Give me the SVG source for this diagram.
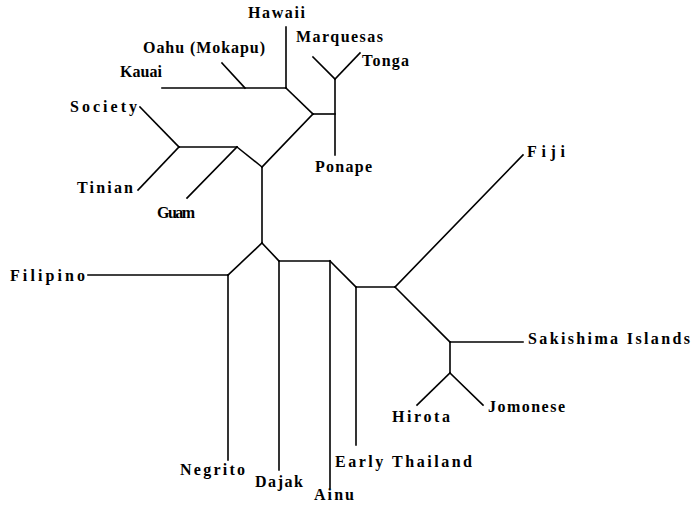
<svg xmlns="http://www.w3.org/2000/svg" width="693" height="506" viewBox="0 0 693 506">
  <style>
    .edge { stroke: #000; stroke-width: 1.6; fill: none; stroke-linecap: square; }
    .lbl { font-family: "Liberation Serif", "Times New Roman", serif; font-weight: bold; font-size: 16px; fill: #000; }
  </style>
  <rect x="0" y="0" width="693" height="506" fill="#fff"/>

  <!-- tree branches -->
  <g id="connectors" class="edge">
    <!-- Pacific / Micronesian cluster -->
    <line x1="286" y1="27" x2="286" y2="88"/>
    <line x1="162" y1="88" x2="286" y2="88"/>
    <line x1="222" y1="63" x2="245" y2="88"/>
    <line x1="286" y1="88" x2="313" y2="114"/>
    <line x1="313" y1="114" x2="335" y2="114"/>
    <line x1="335" y1="79" x2="335" y2="155"/>
    <line x1="313" y1="57" x2="335" y2="79"/>
    <line x1="335" y1="79" x2="360" y2="53"/>
    <line x1="313" y1="114" x2="262" y2="167"/>
    <line x1="262" y1="167" x2="237" y2="147"/>
    <line x1="179" y1="147" x2="237" y2="147"/>
    <line x1="237" y1="147" x2="187" y2="198"/>
    <line x1="140" y1="107" x2="179" y2="147"/>
    <line x1="179" y1="147" x2="138" y2="190"/>
    <line x1="262" y1="167" x2="262" y2="243"/>
    <!-- Southeast Asian / Japanese cluster -->
    <line x1="262" y1="243" x2="228" y2="275"/>
    <line x1="88" y1="275" x2="228" y2="275"/>
    <line x1="228" y1="275" x2="228" y2="460"/>
    <line x1="262" y1="243" x2="279" y2="261"/>
    <line x1="279" y1="261" x2="330" y2="261"/>
    <line x1="279" y1="261" x2="279" y2="470"/>
    <line x1="330" y1="261" x2="330" y2="488"/>
    <line x1="330" y1="261" x2="356" y2="287"/>
    <line x1="356" y1="287" x2="395" y2="287"/>
    <line x1="356" y1="287" x2="356" y2="445"/>
    <line x1="395" y1="287" x2="523" y2="155"/>
    <line x1="395" y1="287" x2="450" y2="342"/>
    <line x1="450" y1="342" x2="523" y2="342"/>
    <line x1="450" y1="342" x2="450" y2="373"/>
    <line x1="450" y1="373" x2="417" y2="405"/>
    <line x1="450" y1="373" x2="483" y2="405"/>
  </g>

  <!-- taxa -->
  <g id="hawaii"><text class="lbl" x="248" y="18" textLength="57" lengthAdjust="spacing">Hawaii</text></g>
  <g id="oahu"><text class="lbl" x="143" y="53" textLength="122" lengthAdjust="spacing">Oahu (Mokapu)</text></g>
  <g id="marquesas"><text class="lbl" x="296" y="42" textLength="87" lengthAdjust="spacing">Marquesas</text></g>
  <g id="tonga"><text class="lbl" x="362" y="66" textLength="47" lengthAdjust="spacing">Tonga</text></g>
  <g id="kauai"><text class="lbl" x="120" y="77" textLength="42" lengthAdjust="spacing">Kauai</text></g>
  <g id="society"><text class="lbl" x="70" y="112" textLength="67" lengthAdjust="spacing">Society</text></g>
  <g id="tinian"><text class="lbl" x="77" y="193" textLength="56" lengthAdjust="spacing">Tinian</text></g>
  <g id="guam"><text class="lbl" x="157" y="218" textLength="38" lengthAdjust="spacing">Guam</text></g>
  <g id="ponape"><text class="lbl" x="315" y="172" textLength="57" lengthAdjust="spacing">Ponape</text></g>
  <g id="fiji"><text class="lbl" x="527" y="157" textLength="38" lengthAdjust="spacing">Fiji</text></g>
  <g id="sakishima"><text class="lbl" x="528" y="344" textLength="162" lengthAdjust="spacing">Sakishima Islands</text></g>
  <g id="jomonese"><text class="lbl" x="488" y="412" textLength="77" lengthAdjust="spacing">Jomonese</text></g>
  <g id="hirota"><text class="lbl" x="392" y="422" textLength="58" lengthAdjust="spacing">Hirota</text></g>
  <g id="filipino"><text class="lbl" x="10" y="281" textLength="75" lengthAdjust="spacing">Filipino</text></g>
  <g id="negrito"><text class="lbl" x="180" y="475" textLength="65" lengthAdjust="spacing">Negrito</text></g>
  <g id="dajak"><text class="lbl" x="255" y="487" textLength="48" lengthAdjust="spacing">Dajak</text></g>
  <g id="ainu"><text class="lbl" x="314" y="500" textLength="40" lengthAdjust="spacing">Ainu</text></g>
  <g id="early-thailand"><text class="lbl" x="335" y="467" textLength="137" lengthAdjust="spacing">Early Thailand</text></g>
</svg>
